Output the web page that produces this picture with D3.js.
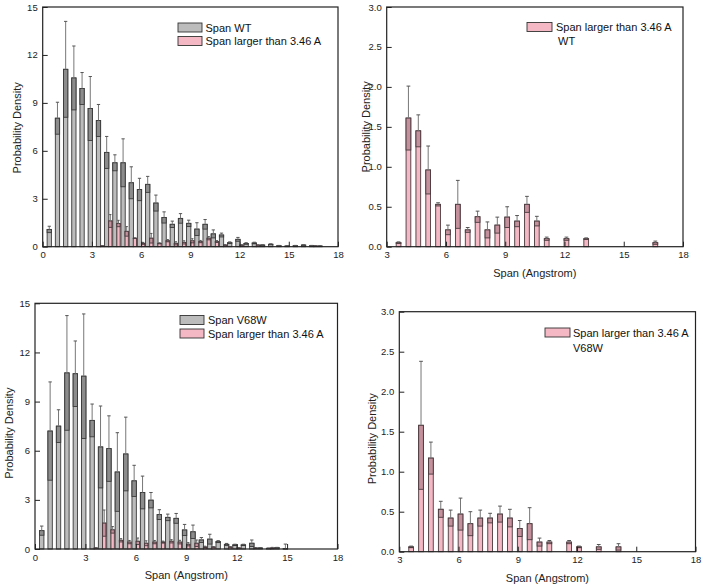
<!DOCTYPE html>
<html><head><meta charset="utf-8">
<script src="https://cdn.jsdelivr.net/npm/d3@7"></script>
<style>body{margin:0;background:#fff;}svg{display:block;}text{font-family:"Liberation Sans",Arial,sans-serif;}</style>
</head><body>
<script>
// ---- data ----
const centers = [0.5,1,1.5,2,2.5,3,3.5,4,4.5,5,5.5,6,6.5,7,7.5,8,8.5,9,9.5,10,10.5,11,11.5,12,12.5,13,13.5,14,14.5,15,15.5,16,16.5,17];
const wtSpan   = [1.08,8.04,11.1,10.56,9.9,8.65,7.9,5.9,5.25,5.25,4.0,3.58,3.9,2.73,1.83,1.4,1.77,1.46,1.1,1.4,0.8,0.73,0.25,0.46,0.2,0.23,0.1,0.15,0.06,0.04,0.06,0.1,0.06,0.04];
const wtSpanSd = [0.2,1.0,3.0,2.0,1.0,2.0,1.0,1.0,0.5,1.5,1.0,0.7,0.5,0.5,0.35,0.2,0.3,0.2,0.4,0.3,0.25,0.12,0.05,0.12,0.05,0.05,0.02,0.03,0.02,0.02,0.02,0.02,0.02,0.02];
const wtLarge   = [0,0,0,0,0,0,0.05,1.61,1.45,0.96,0.53,0.21,0.53,0.21,0.375,0.21,0.27,0.37,0.32,0.53,0.32,0.1,0,0.1,0,0.1,0,0,0,0,0,0,0.05,0];
const wtLargeSd = [0,0,0,0,0,0,0.01,0.4,0.2,0.3,0.02,0.06,0.3,0.03,0.07,0.1,0.1,0.13,0.07,0.1,0.06,0.02,0,0.02,0,0.01,0,0,0,0,0,0,0.02,0];
const mutSpan   = [1.12,7.2,7.5,10.75,10.7,10.55,7.85,6.23,6.13,4.7,5.8,4.16,3.45,2.98,2.1,1.93,1.87,1.16,1.05,0.55,0.6,0.45,0.28,0.25,0.25,0.35,0.06,0.04,0.08,0.02,0,0,0,0];
const mutSpanSd = [0.28,3.0,1.0,3.5,2.0,3.8,1.0,2.5,2.0,2.4,2.25,0.95,1.0,0.47,0.3,0.2,0.3,0.34,0.41,0.15,0.3,0.06,0.06,0.04,0.04,0.2,0.02,0.02,0.02,0.28,0,0,0,0];
const mutLarge   = [0,0,0,0,0,0,0.06,1.58,1.17,0.53,0.42,0.47,0.35,0.42,0.42,0.47,0.42,0.29,0.35,0.12,0.12,0,0.12,0.06,0,0.06,0,0.06,0,0,0,0,0,0];
const mutLargeSd = [0,0,0,0,0,0,0.01,0.8,0.2,0.1,0.1,0.2,0.15,0.1,0.06,0.1,0.11,0.1,0.2,0.05,0.02,0,0.02,0.01,0,0.03,0,0.04,0,0,0,0,0,0];
const xTicksFull = [0,3,6,9,12,15,18];
const xTicksRight = [3,6,9,12,15,18];
const yTicksBig = [0,3,6,9,12,15];
const yTicksSmall = [0,0.5,1.0,1.5,2.0,2.5,3.0];

const W = 703, H = 587;
const svg = d3.select("body").append("svg").attr("width", W).attr("height", H);

const GRAY = {fill:"#bcbcbc", dark:"#8c8c8c", stroke:"#3a3a3a"};
const PINK = {fill:"#f3b8c4", dark:"#c4909b", stroke:"#4a3a3e"};

function panel(o){
  const x = d3.scaleLinear().domain(o.xd).range([o.x0,o.x1]);
  const y = d3.scaleLinear().domain(o.yd).range([o.y1,o.y0]);
  const g = svg.append("g");
  o.series.forEach(s=>{
    const bw = x(s.w) - x(0);
    const data = centers.map((c,i)=>({c, v:s.vals[i], sd:s.sd[i]})).filter(d=>d.v>0);
    const bg = g.append("g");
    data.forEach(d=>{
      const cx = x(d.c + s.off);
      const lx = cx - bw/2;
      bg.append("rect").attr("x",lx).attr("y",y(d.v)).attr("width",bw).attr("height",y(0)-y(d.v))
        .attr("fill",s.col.fill).attr("stroke",s.col.stroke).attr("stroke-width",0.9);
      if(d.sd>0){
        const lo = Math.max(d.v-d.sd,0);
        bg.append("rect").attr("x",lx).attr("y",y(d.v)).attr("width",bw).attr("height",y(lo)-y(d.v))
          .attr("fill",s.col.dark).attr("stroke",s.col.stroke).attr("stroke-width",0.9);
        bg.append("line").attr("x1",cx).attr("x2",cx).attr("y1",y(d.v)).attr("y2",y(d.v+d.sd))
          .attr("stroke","#777").attr("stroke-width",1);
        bg.append("line").attr("x1",cx-bw/2+0.5).attr("x2",cx+bw/2-0.5).attr("y1",y(d.v+d.sd)).attr("y2",y(d.v+d.sd))
          .attr("stroke","#555").attr("stroke-width",1);
      }
    });
  });
  const ax = g.append("g").attr("transform",`translate(0,${o.y1})`)
    .call(d3.axisBottom(x).tickValues(o.xt).tickSizeInner(-5).tickSizeOuter(0).tickPadding(5));
  const ay = g.append("g").attr("transform",`translate(${o.x0},0)`)
    .call(d3.axisLeft(y).tickValues(o.yt).tickFormat(o.yf).tickSizeInner(-5).tickSizeOuter(0).tickPadding(5));
  [ax,ay].forEach(a=>{
    a.select(".domain").remove();
    a.selectAll("line").attr("stroke","#222");
    a.selectAll("text").attr("font-size",9.5).attr("fill","#222").style("font-family","'Liberation Sans',Arial,sans-serif");
  });
  g.append("rect").attr("x",o.x0).attr("y",o.y0).attr("width",o.x1-o.x0).attr("height",o.y1-o.y0)
    .attr("fill","none").attr("stroke","#222").attr("stroke-width",1.2);
  g.append("text").attr("transform",`translate(${o.ytx},${(o.y0+o.y1)/2+o.ytdy}) rotate(-90)`)
    .attr("text-anchor","middle").attr("dominant-baseline","central").attr("font-size",11).attr("fill","#222")
    .text("Probability Density");
  if(o.xtitle){
    g.append("text").attr("x",(o.x0+o.x1)/2).attr("y",o.xty).attr("text-anchor","middle")
      .attr("dominant-baseline","central").attr("font-size",11).attr("fill","#222").text("Span (Angstrom)");
  }
  o.legend.forEach(l=>{
    if(l.col) g.append("rect").attr("x",l.x).attr("y",l.y-4.5).attr("width",l.w).attr("height",9)
      .attr("fill",l.col.fill).attr("stroke","#333").attr("stroke-width",0.9);
    g.append("text").attr("x",l.tx).attr("y",l.y).attr("dominant-baseline","central").attr("font-size",11)
      .attr("fill","#111").text(l.text);
  });
}

panel({x0:42.7,x1:338,y0:7,y1:246.7,xd:[0,18],yd:[0,15],xt:xTicksFull,yt:yTicksBig,yf:d3.format("d"),
  ytx:17,ytdy:1,xtitle:false,
  series:[{vals:wtSpan,sd:wtSpanSd,off:-0.1,w:0.26,col:GRAY},{vals:wtLarge,sd:wtLargeSd,off:0.12,w:0.2,col:PINK}],
  legend:[{x:178,y:27.5,w:24,col:GRAY,tx:205.5,text:"Span WT"},{x:178,y:41,w:24,col:PINK,tx:205.5,text:"Span larger than 3.46 A"}]});

panel({x0:386.7,x1:683,y0:7,y1:246.7,xd:[3,18],yd:[0,3],xt:xTicksRight,yt:yTicksSmall,yf:d3.format(".1f"),
  ytx:366,ytdy:0,xtitle:true,xty:273,
  series:[{vals:wtLarge,sd:wtLargeSd,off:0.1,w:0.24,col:PINK}],
  legend:[{x:527,y:27,w:25,col:PINK,tx:556,text:"Span larger than 3.46 A"},{tx:558,y:41,text:"WT"}]});

panel({x0:35,x1:337.5,y0:303.3,y1:549,xd:[0,18],yd:[0,15],xt:xTicksFull,yt:yTicksBig,yf:d3.format("d"),
  ytx:9,ytdy:7,xtitle:true,xty:575,
  series:[{vals:mutSpan,sd:mutSpanSd,off:-0.1,w:0.26,col:GRAY},{vals:mutLarge,sd:mutLargeSd,off:0.12,w:0.2,col:PINK}],
  legend:[{x:180,y:320,w:24,col:GRAY,tx:208,text:"Span V68W"},{x:180,y:333.5,w:24,col:PINK,tx:208,text:"Span larger than 3.46 A"}]});

panel({x0:399.3,x1:695.5,y0:311.7,y1:551.7,xd:[3,18],yd:[0,3],xt:xTicksRight,yt:yTicksSmall,yf:d3.format(".1f"),
  ytx:372,ytdy:7,xtitle:true,xty:577.5,
  series:[{vals:mutLarge,sd:mutLargeSd,off:0.1,w:0.24,col:PINK}],
  legend:[{x:545,y:332.5,w:25,col:PINK,tx:573,text:"Span larger than 3.46 A"},{tx:573,y:347.5,text:"V68W"}]});
</script>
</body></html>
